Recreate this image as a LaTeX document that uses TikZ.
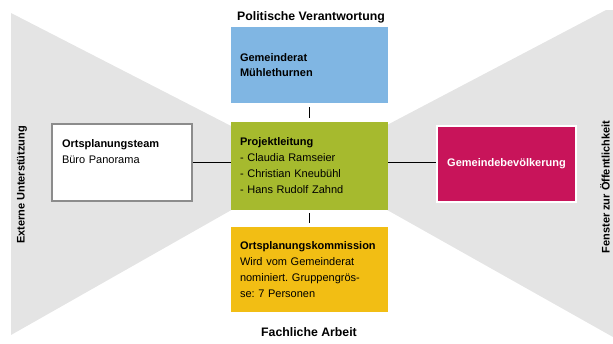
\documentclass[tikz,border=0pt]{standalone}
\usepackage{fontspec}
\setmainfont{Liberation Sans}
\setsansfont{Liberation Sans}

\definecolor{councilblue}{RGB}{128,182,227}
\definecolor{leadgreen}{RGB}{166,186,46}
\definecolor{commyellow}{RGB}{242,190,20}
\definecolor{popmagenta}{RGB}{200,20,90}
\definecolor{fieldgrey}{RGB}{228,228,228}
\definecolor{teamgrey}{RGB}{140,140,140}

\begin{document}
\frenchspacing
\begin{tikzpicture}[x=1pt,y=-1pt,
    every node/.style={font=\fontsize{11}{16}\selectfont},
    box/.style={rectangle, inner xsep=9pt, inner ysep=0pt, align=left, text width=139pt, minimum width=157pt},
    title/.style={font=\fontsize{12.3}{14}\selectfont\bfseries},
    side/.style={font=\fontsize{11}{14}\selectfont\bfseries, rotate=90},
    link/.style={line width=1.8pt, black}]

  \useasboundingbox (0,0) rectangle (613,343);

  % the two grey fields
  \fill[fieldgrey] (11,13) -- (309,166) -- (11,335) -- cycle;
  \fill[fieldgrey] (606,10) -- (309,166) -- (613,337) -- (613,10) -- cycle;

  \begin{scope}
    \node[box, fill=councilblue, minimum height=76pt] (council) at (309.5,65)
      {\textbf{Gemeinderat}\\[-1pt]\textbf{Mühlethurnen}};
    \node[box, fill=leadgreen, minimum height=88pt] (lead) at (309.5,166)
      {\textbf{Projektleitung}\\- Claudia Ramseier\\- Christian Kneubühl\\- Hans Rudolf Zahnd};
    \node[box, fill=commyellow, minimum height=85pt] (commission) at (309.5,269.5)
      {\textbf{Ortsplanungskommission}\\Wird vom Gemeinderat\\nominiert. Gruppengrös-\\se: 7 Personen};
    \node[box, fill=white, draw=teamgrey, line width=1.8pt, inner xsep=10pt, text width=120pt,
          minimum width=140pt, minimum height=77pt] (team) at (122,162.5)
      {\textbf{Ortsplanungsteam}\\Büro Panorama\\[6pt]~};
    \node[rectangle, fill=popmagenta, draw=white, line width=2.5pt, text=white, font=\fontsize{11}{16}\selectfont\bfseries,
          minimum width=139pt, minimum height=76pt] (pop) at (506.5,164) {Gemeindebevölkerung};
  \end{scope}

  \node[title] (politics) at (311,17) {Politische Verantwortung};
  \node[title] (work) at (309,332) {Fachliche Arbeit};
  \node[side] (external) at (22,185) {Externe Unterstützung};
  \node[side] (window) at (605,187) {Fenster zur Öffentlichkeit};

  \draw[link] (team.east) -- (team.east -| lead.west);
  \draw[link] (lead.east |- team.east) -- (pop.west |- team.east);
  \draw[link, shorten >=4pt, shorten <=4pt] (council.south) -- (lead.north);
  \draw[link, shorten >=4pt, shorten <=3pt] (lead.south) -- (commission.north);

\end{tikzpicture}
\end{document}
